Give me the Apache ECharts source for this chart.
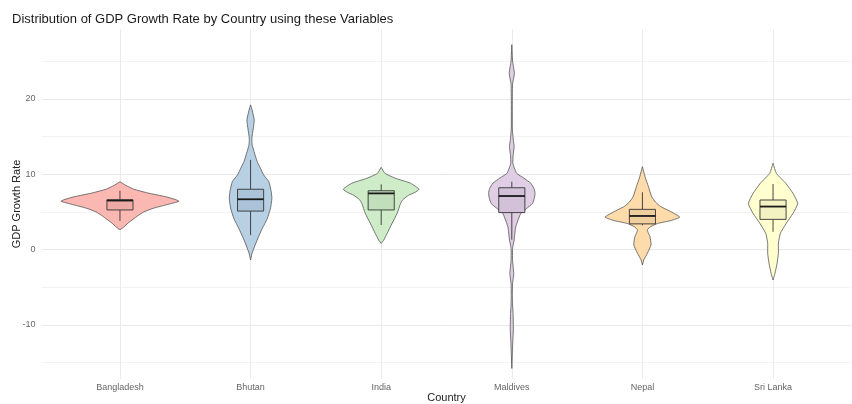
<!DOCTYPE html>
<html>
<head>
<meta charset="utf-8">
<script src="https://cdn.jsdelivr.net/npm/echarts@6/dist/echarts.min.js"></script>
<style>
html, body { margin: 0; padding: 0; background: #fff; }
#main { width: 852px; height: 404px; }
</style>
</head>
<body>
<div id="main"></div>
<script>
const countries = ['Bangladesh', 'Bhutan', 'India', 'Maldives', 'Nepal', 'Sri Lanka']
const colors = ['#FBB4AE', '#B3CDE3', '#CCEBC5', '#DECBE4', '#FED9A6', '#FFFFCC']

// violin outlines, top to bottom: [growth rate, half width in category units]
const bangladeshViolin = [[9.0, 0], [8.5, 0.046], [8.0, 0.107], [7.5, 0.214], [7.0, 0.352], [6.6, 0.43], [6.4, 0.452], [6.0, 0.37], [5.5, 0.26], [5.0, 0.184], [4.5, 0.138], [4.0, 0.10], [3.5, 0.061], [3.0, 0.03], [2.6, 0]]
const bhutanViolin = [[19.2, 0], [18.5, 0.012], [17.2, 0.028], [16, 0.02], [14.8, 0.01], [13.9, 0.012], [12.8, 0.03], [11.7, 0.05], [10.8, 0.075], [9.9, 0.1], [9.0, 0.14], [7.7, 0.158], [6.8, 0.163], [5.5, 0.153], [4.1, 0.128], [2.8, 0.09], [1.5, 0.056], [0.2, 0.026], [-0.6, 0.01], [-1.4, 0]]
const indiaViolin = [[10.9, 0], [10.1, 0.03], [9.45, 0.11], [8.8, 0.225], [8.0, 0.29], [7.6, 0.26], [7.2, 0.21], [6.6, 0.165], [6.1, 0.148], [4.8, 0.122], [3.5, 0.084], [2.15, 0.046], [1.26, 0.02], [0.8, 0]]
const maldivesViolin = [[27.2, 0], [25, 0.006], [23.4, 0.02], [22, 0.006], [20.7, 0.004], [16, 0.004], [14.5, 0.012], [13.65, 0.018], [12.5, 0.01], [11.45, 0.008], [10.8, 0.02], [10.1, 0.038], [9.5, 0.09], [8.8, 0.145], [8.1, 0.17], [7.45, 0.178], [6.8, 0.172], [6.1, 0.158], [5.4, 0.11], [4.8, 0.069], [3.0, 0.03], [1.26, 0.018], [0.4, 0.008], [-0.07, 0.005], [-1.5, 0.006], [-3.2, 0.015], [-4.5, 0.006], [-5.8, 0.004], [-7.5, 0.006], [-8.5, 0.01], [-10.7, 0.012], [-12, 0.008], [-13.3, 0.005], [-15.8, 0]]
const nepalViolin = [[11.0, 0], [9.67, 0.02], [8.35, 0.046], [7.0, 0.071], [6.3, 0.1], [5.7, 0.14], [5.0, 0.22], [4.3, 0.286], [3.85, 0.22], [3.45, 0.115], [3.0, 0.06], [2.6, 0.038], [2.2, 0.045], [1.7, 0.058], [0.6, 0.066], [-0.5, 0.038], [-1.4, 0.01], [-2.06, 0]]
const sriLankaViolin = [[11.45, 0], [10.1, 0.026], [8.8, 0.097], [7.45, 0.153], [6.1, 0.189], [4.8, 0.153], [3.5, 0.102], [2.15, 0.056], [0.82, 0.041], [-0.5, 0.041], [-1.83, 0.031], [-3.16, 0.015], [-4.05, 0]]
const violins = [bangladeshViolin, bhutanViolin, indiaViolin, maldivesViolin, nepalViolin, sriLankaViolin]

// box stats: [lower whisker, Q1, median, Q3, upper whisker]
const boxStats = [
  [3.8, 5.25, 6.5, 6.6, 7.8],
  [1.9, 5.1, 6.67, 8.0, 11.9],
  [3.25, 5.25, 7.45, 7.8, 8.65],
  [1.3, 4.9, 7.1, 8.2, 9.0],
  [3.2, 3.4, 4.45, 5.33, 7.6],
  [2.36, 4.0, 5.7, 6.57, 8.7]
]

const yLabels = [-10, 0, 10, 20]
const yGridValues = [-15, -10, -5, 0, 5, 10, 15, 20, 25]
const xPositions = [1, 2, 3, 4, 5, 6]

const myChart = echarts.init(document.getElementById('main'))
const font = 'Liberation Sans, Arial, sans-serif'
const boxHalf = 0.1

// slightly darker box fill, like the box drawn over the violin
const darken = (hex, f) => {
  const n = parseInt(hex.slice(1), 16)
  const r = Math.round(((n >> 16) & 255) * f)
  const g = Math.round(((n >> 8) & 255) * f)
  const b = Math.round((n & 255) * f)
  return 'rgb(' + r + ',' + g + ',' + b + ')'
}

const option = {
  animation: false,
  title: {
    text: 'Distribution of GDP Growth Rate by Country using these Variables',
    left: 7,
    top: 8,
    textStyle: { fontFamily: font, fontSize: 13, fontWeight: 'normal', color: '#1a1a1a' }
  },
  grid: { left: 41.6, right: 0.6, top: 29, bottom: 25, outerBoundsMode: 'none', containLabel: false },
  xAxis: {
    type: 'value',
    min: 0.4,
    max: 6.6,
    name: 'Country',
    nameLocation: 'middle',
    nameGap: 13,
    nameMoveOverlap: false,
    nameTextStyle: { fontFamily: font, fontSize: 11, color: '#222' },
    axisLine: { show: false },
    axisTick: { show: false, customValues: xPositions },
    axisLabel: {
      customValues: xPositions,
      formatter: (v) => countries[Math.round(v) - 1],
      fontFamily: font,
      fontSize: 9,
      color: '#666',
      margin: 4
    },
    splitLine: { show: true, lineStyle: { color: '#ebebeb', width: 1 } }
  },
  yAxis: {
    type: 'value',
    min: -17.2,
    max: 29.28,
    name: 'GDP Growth Rate',
    nameLocation: 'middle',
    nameGap: 19,
    nameMoveOverlap: false,
    nameTextStyle: { fontFamily: font, fontSize: 11, color: '#222' },
    axisLine: { show: false },
    axisTick: { show: false, customValues: yGridValues },
    axisLabel: {
      customValues: yLabels,
      fontFamily: font,
      fontSize: 9,
      color: '#666',
      margin: 6
    },
    splitLine: { show: true, lineStyle: { color: ['#f3f3f3', '#e8e8e8'], width: 1 } }
  },
  series: [
    {
      type: 'custom',
      name: 'violin',
      silent: true,
      data: xPositions.map((x) => [x]),
      renderItem: function (params, api) {
        const i = params.dataIndex
        const cx = api.value(0)
        const prof = violins[i]
        const right = prof.map((p) => api.coord([cx + p[1], p[0]]))
        const left = prof.slice().reverse().map((p) => api.coord([cx - p[1], p[0]]))
        return {
          type: 'polygon',
          shape: { points: right.concat(left), smooth: 0.15 },
          style: { fill: colors[i], opacity: 0.95, stroke: '#4d4d4d', lineWidth: 0.8 }
        }
      },
      z: 2
    },
    {
      type: 'custom',
      name: 'box',
      silent: true,
      data: boxStats.map((s, i) => [xPositions[i]].concat(s)),
      renderItem: function (params, api) {
        const i = params.dataIndex
        const cx = api.value(0)
        const lo = api.coord([cx, api.value(1)])
        const q1l = api.coord([cx - boxHalf, api.value(2)])
        const medl = api.coord([cx - boxHalf, api.value(3)])
        const medr = api.coord([cx + boxHalf, api.value(3)])
        const q3r = api.coord([cx + boxHalf, api.value(4)])
        const hi = api.coord([cx, api.value(5)])
        const q1c = api.coord([cx, api.value(2)])
        const q3c = api.coord([cx, api.value(4)])
        const stroke = '#333'
        return {
          type: 'group',
          children: [
            { type: 'line', shape: { x1: hi[0], y1: hi[1], x2: q3c[0], y2: q3c[1] }, style: { stroke: stroke, lineWidth: 0.9 } },
            { type: 'line', shape: { x1: q1c[0], y1: q1c[1], x2: lo[0], y2: lo[1] }, style: { stroke: stroke, lineWidth: 0.9 } },
            {
              type: 'rect',
              shape: { x: q1l[0], y: q3r[1], width: q3r[0] - q1l[0], height: q1l[1] - q3r[1] },
              style: { fill: darken(colors[i], 0.95), stroke: stroke, lineWidth: 0.9 }
            },
            { type: 'line', shape: { x1: medl[0], y1: medl[1], x2: medr[0], y2: medr[1] }, style: { stroke: '#1a1a1a', lineWidth: 1.8 } }
          ]
        }
      },
      z: 3
    }
  ]
}
myChart.setOption(option)
</script>
</body>
</html>
